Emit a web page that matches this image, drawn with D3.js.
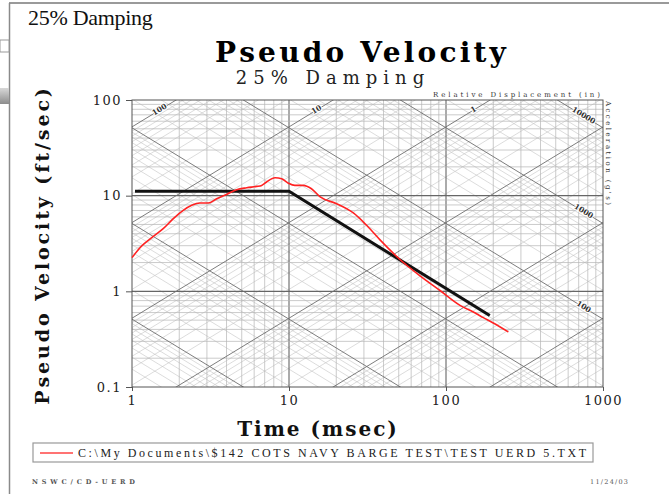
<!DOCTYPE html>
<html><head><meta charset="utf-8">
<script src="https://cdn.jsdelivr.net/npm/d3@7"></script>
<style>
body{margin:0;background:#fff;}
svg{display:block;}
</style>
</head><body>
<svg id="chart" width="669" height="494"></svg>
<script>
// Shock response spectrum, 25% damping
const periodMs = [1, 1.124, 1.367, 1.58, 1.833, 2.12, 2.4, 2.71, 3.06, 3.46, 4.0, 4.64, 5.38, 6.22, 6.7, 7.2, 8.15, 8.98, 9.9, 10.9, 12.3, 13.9, 15.8, 20.1, 25.7, 31.2, 38, 50.9, 68.3, 91.6, 122.8, 149.3, 172.8, 200, 249.5];
const pseudoVel = [2.25, 2.86, 3.75, 4.52, 5.75, 7.02, 7.92, 8.37, 8.37, 9.3, 10.3, 11.55, 12.1, 12.5, 12.8, 13.9, 15.4, 15.0, 13.5, 12.8, 12.8, 11.8, 9.7, 8.25, 6.6, 4.9, 3.45, 2.15, 1.45, 1.02, 0.714, 0.608, 0.531, 0.466, 0.376];

// Design envelope (black)
const envPeriod = [1.045, 10, 190];
const envVel = [11.1, 11.1, 0.56];

const xTicks = [1, 10, 100, 1000];
const yTicks = [0.1, 1, 10, 100];
const dispLabelValues = [100, 10, 1];       // labelled along the top edge
const accLabelValues = [10000, 1000, 100];  // labelled along the right edge

const legendText = "C:\\My Documents\\$142 COTS NAVY BARGE TEST\\TEST UERD 5.TXT";

const svg = d3.select("#chart");
const L = 132, R = 603, T = 100, B = 387;

const x = d3.scaleLog().domain([1, 1000]).range([L, R]);
const y = d3.scaleLog().domain([0.1, 100]).range([B, T]);

// ---- window frame decoration ----
svg.append("rect").attr("x", 0).attr("y", 0).attr("width", 669).attr("height", 494).attr("fill", "#fff");
svg.append("line").attr("x1", 9).attr("x2", 669).attr("y1", 3).attr("y2", 3).attr("stroke", "#9a9a9a").attr("stroke-width", 2);
svg.append("line").attr("x1", 9.5).attr("x2", 9.5).attr("y1", 3).attr("y2", 494).attr("stroke", "#8a8a8a").attr("stroke-width", 1.5);
svg.append("rect").attr("x", 0).attr("y", 40).attr("width", 9).attr("height", 12).attr("fill", "#fff").attr("stroke", "#999");
const defs = svg.append("defs");
const grad = defs.append("linearGradient").attr("id", "shade").attr("x1", 0).attr("x2", 0).attr("y1", 0).attr("y2", 1);
grad.append("stop").attr("offset", 0).attr("stop-color", "#d8d8d8");
grad.append("stop").attr("offset", 1).attr("stop-color", "#8c8c8c");
svg.append("rect").attr("x", 0).attr("y", 88).attr("width", 9).attr("height", 16).attr("fill", "url(#shade)");

svg.append("text").attr("x", 28).attr("y", 25)
  .attr("font-family", "Liberation Serif").attr("font-size", 22).attr("letter-spacing", -0.3)
  .attr("fill", "#111").text("25% Damping");

// ---- titles ----
svg.append("text").attr("x", 362).attr("y", 62).attr("text-anchor", "middle")
  .attr("font-family", "DejaVu Serif").attr("font-weight", "bold").attr("font-size", 28)
  .attr("letter-spacing", 3.2).attr("fill", "#000").text("Pseudo Velocity");
svg.append("text").attr("x", 333).attr("y", 84).attr("text-anchor", "middle")
  .attr("font-family", "DejaVu Serif").attr("font-size", 18)
  .attr("letter-spacing", 6).attr("fill", "#222").text("25%  Damping");

// ---- grid ----
defs.append("clipPath").attr("id", "plotclip").append("rect")
  .attr("x", L).attr("y", T).attr("width", R - L).attr("height", B - T);
const grid = svg.append("g").attr("clip-path", "url(#plotclip)");

function multiples(lo, hi) {
  const out = [];
  for (let k = lo; k <= hi; k++) for (let m = 1; m <= 9; m++) out.push({ v: m * Math.pow(10, k), major: m === 1 });
  return out;
}

// constant displacement (rises to the right) and constant acceleration (falls) families
const dispLines = multiples(-4, 2);
const accLines = multiples(-2, 4);
const dispV = (d, p) => 0.5236 * d * p;
const accV = (a, p) => 5.1207 * a / p;

function drawDiag(list, fn) {
  grid.selectAll(null).data(list).enter().append("line")
    .attr("x1", x(1)).attr("x2", x(1000))
    .attr("y1", d => y(fn(d.v, 1))).attr("y2", d => y(fn(d.v, 1000)))
    .attr("stroke", d => d.major ? "#6e6e6e" : "#c4c4c4")
    .attr("stroke-width", d => d.major ? 0.9 : 0.6);
}
drawDiag(dispLines.filter(d => !d.major), dispV);
drawDiag(accLines.filter(d => !d.major), accV);

// rectangular grid
const xGrid = multiples(0, 2).filter(d => d.v > 1 && d.v < 1000);
const yGrid = multiples(-1, 1).filter(d => d.v > 0.1 && d.v < 100);
grid.selectAll(null).data(xGrid).enter().append("line")
  .attr("x1", d => x(d.v)).attr("x2", d => x(d.v)).attr("y1", T).attr("y2", B)
  .attr("stroke", d => d.major ? "#666" : "#b4b4b4").attr("stroke-width", d => d.major ? 1.1 : 0.7);
grid.selectAll(null).data(yGrid).enter().append("line")
  .attr("y1", d => y(d.v)).attr("y2", d => y(d.v)).attr("x1", L).attr("x2", R)
  .attr("stroke", d => d.major ? "#666" : "#b4b4b4").attr("stroke-width", d => d.major ? 1.1 : 0.7);

drawDiag(dispLines.filter(d => d.major), dispV);
drawDiag(accLines.filter(d => d.major), accV);

// diagonal labels
const ang = Math.atan2(y(10) - y(100), x(10) - x(1)) * 180 / Math.PI;
const diagFont = g => g.attr("font-family", "DejaVu Serif").attr("font-weight", "bold").attr("font-size", 7.5)
  .attr("fill", "#333").attr("stroke", "#fff").attr("stroke-width", 2).attr("paint-order", "stroke")
  .attr("text-anchor", "middle").attr("dominant-baseline", "middle");
dispLabelValues.forEach(d => {
  const vy = 78.6, px = x(vy / (0.5236 * d)), py = y(vy);
  svg.append("text").attr("transform", `translate(${px},${py}) rotate(${-ang})`).call(diagFont).text(d);
});
accLabelValues.forEach(a => {
  const p = 750, px = x(p), py = y(accV(a, p));
  svg.append("text").attr("transform", `translate(${px},${py}) rotate(${ang})`).call(diagFont).text(a);
});

svg.append("text").attr("x", 433).attr("y", 97)
  .attr("font-family", "DejaVu Serif").attr("font-size", 7)
  .attr("textLength", 167).attr("lengthAdjust", "spacing")
  .attr("fill", "#333").text("Relative Displacement (in)");
svg.append("text").attr("transform", "translate(606,101) rotate(90)")
  .attr("font-family", "DejaVu Serif").attr("font-size", 7)
  .attr("textLength", 104).attr("lengthAdjust", "spacing")
  .attr("fill", "#333").text("Acceleration (g's)");

// ---- frame and axes ----
svg.append("rect").attr("x", L).attr("y", T).attr("width", R - L).attr("height", B - T)
  .attr("fill", "none").attr("stroke", "#555").attr("stroke-width", 1);

const tickFont = g => g.attr("font-family", "DejaVu Serif").attr("font-size", 13)
  .attr("letter-spacing", 1.5).attr("fill", "#222");
const fmt = v => (v < 1 ? v.toFixed(1) : String(v));

const xAxis = svg.append("g").attr("transform", `translate(0,${B})`)
  .call(d3.axisBottom(x).tickValues(xTicks).tickFormat(fmt).tickSize(4).tickPadding(5));
const yAxis = svg.append("g").attr("transform", `translate(${L},0)`)
  .call(d3.axisLeft(y).tickValues(yTicks).tickFormat(fmt).tickSize(6).tickPadding(4));
[xAxis, yAxis].forEach(a => {
  a.select(".domain").remove();
  a.selectAll(".tick line").attr("stroke", "#555");
  a.selectAll("text").call(tickFont);
});

svg.append("text").attr("x", 318).attr("y", 436).attr("text-anchor", "middle")
  .attr("font-family", "DejaVu Serif").attr("font-weight", "bold").attr("font-size", 20)
  .attr("letter-spacing", 2).attr("fill", "#111").text("Time (msec)");
svg.append("text").attr("transform", "translate(49,245) rotate(-90)").attr("text-anchor", "middle")
  .attr("font-family", "DejaVu Serif").attr("font-weight", "bold").attr("font-size", 19)
  .attr("letter-spacing", 2.9).attr("fill", "#111").text("Pseudo Velocity (ft/sec)");

// ---- data lines ----
const line = d3.line().x(d => x(d[0])).y(d => y(d[1])).curve(d3.curveMonotoneX);
svg.append("path").datum(envPeriod.map((p, i) => [p, envVel[i]]))
  .attr("d", d3.line().x(d => x(d[0])).y(d => y(d[1])))
  .attr("fill", "none").attr("stroke", "#111").attr("stroke-width", 3);
svg.append("path").datum(periodMs.map((p, i) => [p, pseudoVel[i]]))
  .attr("d", line).attr("fill", "none").attr("stroke", "#f22").attr("stroke-width", 1.6);

// ---- legend ----
svg.append("rect").attr("x", 33).attr("y", 443).attr("width", 560).attr("height", 19)
  .attr("fill", "#fff").attr("stroke", "#999").attr("stroke-width", 1.2);
svg.append("line").attr("x1", 40).attr("x2", 73).attr("y1", 453).attr("y2", 453)
  .attr("stroke", "#f44").attr("stroke-width", 1.6);
svg.append("text").attr("x", 78).attr("y", 457)
  .attr("font-family", "Liberation Serif").attr("font-size", 12)
  .attr("textLength", 508).attr("lengthAdjust", "spacing").attr("fill", "#222").text(legendText);

// ---- footer ----
svg.append("text").attr("x", 32).attr("y", 484)
  .attr("font-family", "DejaVu Serif").attr("font-weight", "bold").attr("font-size", 6.5)
  .attr("textLength", 103).attr("lengthAdjust", "spacing").attr("fill", "#555").text("NSWC/CD-UERD");
svg.append("text").attr("x", 590).attr("y", 484)
  .attr("font-family", "DejaVu Serif").attr("font-size", 6.5)
  .attr("textLength", 38).attr("lengthAdjust", "spacing").attr("fill", "#555").text("11/24/03");
</script>
</body></html>
